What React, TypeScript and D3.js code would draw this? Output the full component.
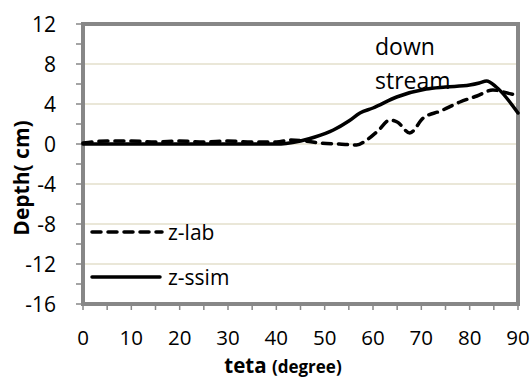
import React from "react";
import * as d3 from "d3";

const thetaLab = [0, 5, 10, 15, 20, 25, 30, 35, 40, 43, 46, 49, 53, 56.6, 58.7, 61, 63.5, 65, 67.6, 70.4, 74, 78, 81.5, 84.8, 88.6, 90];
const zLab = [0.1, 0.3, 0.3, 0.2, 0.3, 0.2, 0.3, 0.2, 0.2, 0.4, 0.3, 0.1, 0, -0.1, 0.4, 1.3, 2.4, 2.2, 1.1, 2.6, 3.3, 4.2, 4.8, 5.4, 5.0, 4.9];
const thetaSsim = [0, 10, 20, 30, 40, 42, 45, 48, 51.8, 55, 57.3, 60, 64.9, 71, 75, 80, 82, 83.5, 85.5, 90];
const zSsim = [0, 0, 0, 0, 0, 0.05, 0.3, 0.7, 1.4, 2.3, 3.1, 3.6, 4.7, 5.5, 5.7, 5.9, 6.1, 6.3, 5.7, 3.1];
const xTicks = [0, 10, 20, 30, 40, 50, 60, 70, 80, 90];
const yTicks = [12, 8, 4, 0, -4, -8, -12, -16];
const seriesNames = ["z-lab", "z-ssim"];

export default function App() {
  const x = d3.scaleLinear().domain([0, 90]).range([83, 518]);
  const y = d3.scaleLinear().domain([-16, 12]).range([304, 24]);
  const line = d3.line<[number, number]>().x(d => x(d[0])).y(d => y(d[1])).curve(d3.curveMonotoneX);
  const labPts = thetaLab.map((t, i) => [t, zLab[i]] as [number, number]);
  const ssimPts = thetaSsim.map((t, i) => [t, zSsim[i]] as [number, number]);
  const minorY = d3.range(-16, 12.01, 2);
  const minorX = d3.range(0, 90.01, 5);
  const font = "'Open Sans', sans-serif";
  const gray = "#878787";
  return (
    <svg width={532} height={379} style={{ position: "absolute", left: 0, top: 0, background: "#fff" }} fontFamily={font}>
      {yTicks.filter(v => v !== 12 && v !== -16).map(v => (
        <line key={"g" + v} x1={x(0)} x2={x(90)} y1={y(v)} y2={y(v)} stroke="#EAE7D8" strokeWidth={2} />
      ))}
      {minorY.map(v => (
        <line key={"ty" + v} x1={x(0) - 7} x2={x(0)} y1={y(v)} y2={y(v)} stroke={gray} strokeWidth={1.5} />
      ))}
      {minorX.map(v => (
        <line key={"tx" + v} x1={x(v)} x2={x(v)} y1={y(-16)} y2={y(-16) + 6} stroke={gray} strokeWidth={1.5} />
      ))}
      <rect x={x(0)} y={y(12)} width={x(90) - x(0)} height={y(-16) - y(12)} fill="none" stroke={gray} strokeWidth={4} />
      {yTicks.map(v => (
        <text key={"yl" + v} x={56} y={y(v)} dy="0.36em" textAnchor="end" fontSize={21} fill="#000">{v}</text>
      ))}
      {xTicks.map(v => (
        <text key={"xl" + v} x={x(v)} y={344.5} textAnchor="middle" fontSize={20.5} fill="#000">{v}</text>
      ))}
      <text x={283} y={372.8} textAnchor="middle" fontWeight="bold" fill="#000">
        <tspan fontSize={20.5}>teta </tspan>
        <tspan fontSize={17}>(degree)</tspan>
      </text>
      <text transform={`translate(29,${178}) rotate(-90)`} textAnchor="middle" fontWeight="bold" fontSize={21} fill="#000">Depth( cm)</text>
      <text x={375} y={55} fontSize={23} fill="#000">down</text>
      <text x={375} y={89} fontSize={23} fill="#000">stream</text>
      <path d={line(labPts) || ""} fill="none" stroke="#000" strokeWidth={3.5} strokeDasharray="9,7" strokeLinecap="round" />
      <path d={line(ssimPts) || ""} fill="none" stroke="#000" strokeWidth={3.5} strokeLinecap="round" />
      <line x1={92} x2={162} y1={232} y2={232} stroke="#000" strokeWidth={3.5} strokeDasharray="9,7" strokeLinecap="round" />
      <text x={168} y={232} dy="0.36em" fontSize={21} fill="#000">{seriesNames[0]}</text>
      <line x1={92} x2={160} y1={277} y2={277} stroke="#000" strokeWidth={3.5} strokeLinecap="round" />
      <text x={168} y={277} dy="0.36em" fontSize={21} fill="#000">{seriesNames[1]}</text>
    </svg>
  );
}
